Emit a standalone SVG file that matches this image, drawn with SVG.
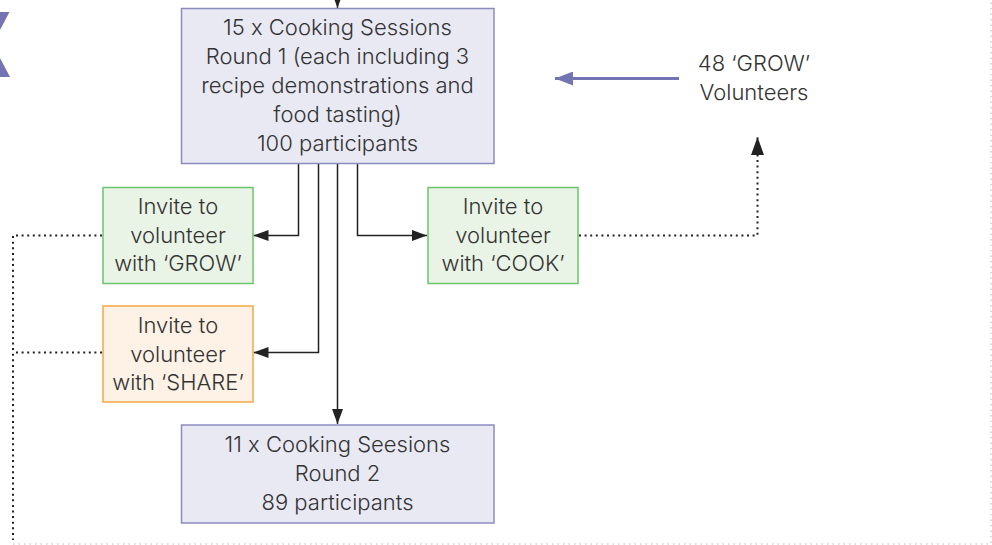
<svg xmlns="http://www.w3.org/2000/svg" width="992" height="545" viewBox="0 0 992 545">
  <style>
    .t { font-family: Inter, "Noto Sans", "Liberation Sans", sans-serif; font-size: 22px; font-weight: 300; fill: #333333; text-anchor: middle; }
    .blue { fill: #e9e9f3; stroke: #8b8bc0; stroke-width: 1.5; }
    .green { fill: #e9f4e6; stroke: #6cc46c; stroke-width: 1.5; }
    .orange { fill: #fdf2e5; stroke: #f5a843; stroke-width: 1.5; }
    .conn { fill: none; stroke: #222222; stroke-width: 1.5; }
    .dot { fill: none; stroke: #222222; stroke-width: 2; stroke-dasharray: 2 3.6; }
  </style>
  <defs>
    <marker id="ah" markerUnits="userSpaceOnUse" markerWidth="15" markerHeight="11" refX="15" refY="5.5" orient="auto">
      <path d="M0,0 L15,5.5 L0,11 z" fill="#222222"/>
    </marker>
    <marker id="ahBig" markerUnits="userSpaceOnUse" markerWidth="18" markerHeight="13" refX="18" refY="6.5" orient="auto">
      <path d="M0,0 L18,6.5 L0,13 z" fill="#222222"/>
    </marker>
    <marker id="ahPurple" markerUnits="userSpaceOnUse" markerWidth="18" markerHeight="14" refX="18" refY="7" orient="auto">
      <path d="M0,0 L18,7 L0,14 z" fill="#7474b2"/>
    </marker>
  </defs>

  <!-- partial shape at left edge -->
  <polygon points="0,12 9.5,12 0,30" fill="#7474b2"/>
  <polygon points="0,58 0,77 10,77" fill="#7474b2"/>

  <!-- page border -->
  <path d="M13,544 H991 V0" fill="none" stroke="#bbbbbb" stroke-width="1" stroke-dasharray="1.5 4"/>

  <g id="connectors">
    <path class="conn" d="M337.5,-20 V8" marker-end="url(#ah)"/>
    <path class="conn" d="M298.5,164 V235.5 H253.5" marker-end="url(#ah)"/>
    <path class="conn" d="M318.5,164 V352.5 H253.5" marker-end="url(#ah)"/>
    <path class="conn" d="M337.5,164 V424" marker-end="url(#ah)"/>
    <path class="conn" d="M357.5,164 V235.5 H427" marker-end="url(#ah)"/>
    <path class="dot" d="M102,235.5 H13 V540"/>
    <path class="dot" d="M102,352.5 H13"/>
    <path class="dot" d="M579,235.5 H757.5 V137" marker-end="url(#ahBig)"/>
    <path d="M679,78.5 H555" fill="none" stroke="#7474b2" stroke-width="3" marker-end="url(#ahPurple)"/>
  </g>

  <g id="round1">
    <rect class="blue" x="181.5" y="8.5" width="312.5" height="155"/>
    <text class="t" x="337.5" y="35">15 x Cooking Sessions</text>
    <text class="t" x="337.5" y="64">Round 1 (each including 3</text>
    <text class="t" x="337.5" y="93">recipe demonstrations and</text>
    <text class="t" x="337.5" y="122">food tasting)</text>
    <text class="t" x="337.5" y="151">100 participants</text>
  </g>

  <g id="grow">
    <rect class="green" x="103" y="187.5" width="150" height="96"/>
    <text class="t" x="178" y="214">Invite to</text>
    <text class="t" x="178" y="242.5">volunteer</text>
    <text class="t" x="178" y="271">with ‘GROW’</text>
  </g>

  <g id="cook">
    <rect class="green" x="428" y="187.5" width="150" height="96"/>
    <text class="t" x="503" y="214">Invite to</text>
    <text class="t" x="503" y="242.5">volunteer</text>
    <text class="t" x="503" y="271">with ‘COOK’</text>
  </g>

  <g id="share">
    <rect class="orange" x="103" y="306" width="150" height="96"/>
    <text class="t" x="178" y="333">Invite to</text>
    <text class="t" x="178" y="361.5">volunteer</text>
    <text class="t" x="178" y="390">with ‘SHARE’</text>
  </g>

  <g id="round2">
    <rect class="blue" x="181.5" y="425" width="312.5" height="98"/>
    <text class="t" x="337.5" y="452">11 x Cooking Seesions</text>
    <text class="t" x="337.5" y="481">Round 2</text>
    <text class="t" x="337.5" y="510">89 participants</text>
  </g>

  <g id="volunteers">
    <text class="t" x="754" y="71">48 ‘GROW’</text>
    <text class="t" x="754" y="100">Volunteers</text>
  </g>
</svg>
